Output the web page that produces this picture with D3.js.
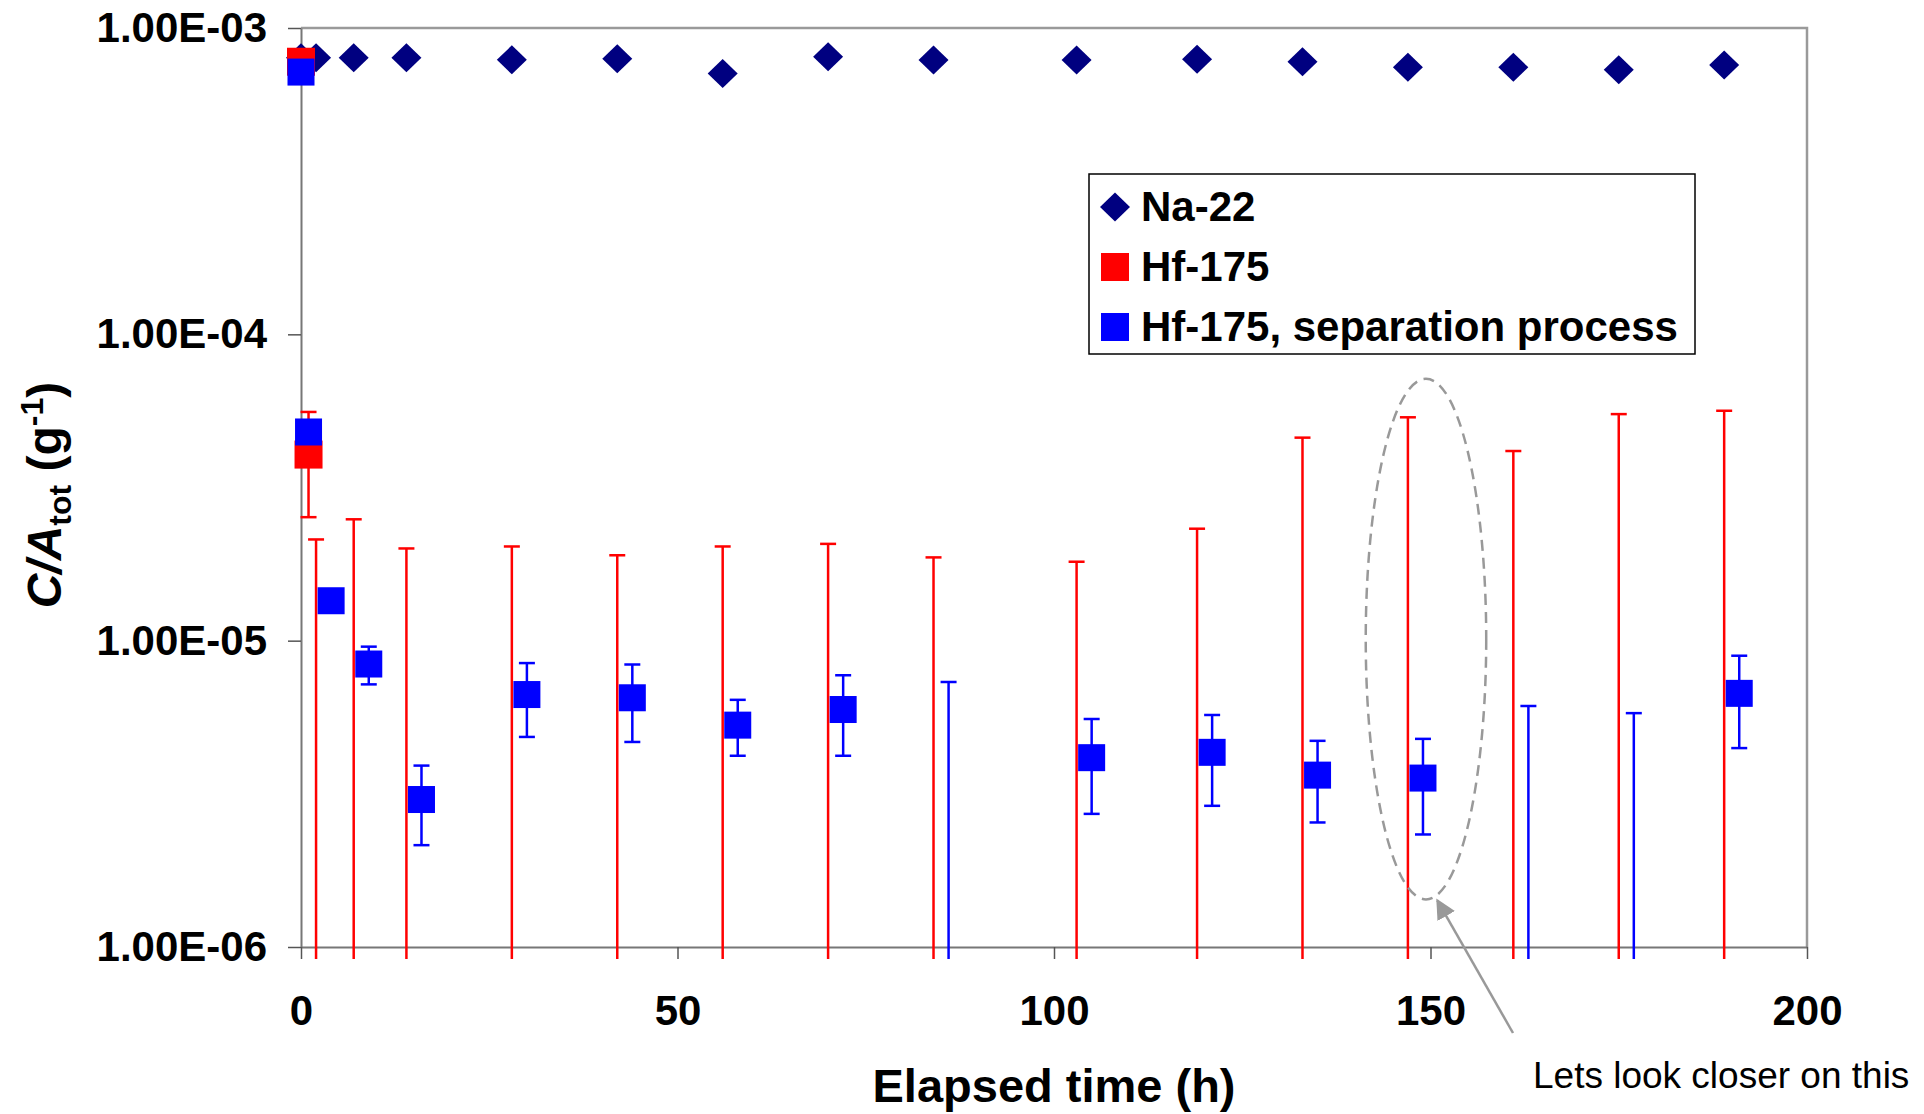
<!DOCTYPE html>
<html>
<head>
<meta charset="utf-8">
<script src="https://cdn.jsdelivr.net/npm/d3@7"></script>
<style>
  body { margin: 0; background: #fff; }
  text { font-family: "Liberation Sans", Arial, sans-serif; }
</style>
</head>
<body>
<svg id="chart" width="1924" height="1114"></svg>
<script>
// x ticks and y ticks (log axis)
var xTicks = [0, 50, 100, 150, 200];
var yTicks = [1e-6, 1e-5, 1e-4, 1e-3];
var yTickLabels = ["1.00E-06", "1.00E-05", "1.00E-04", "1.00E-03"];
var legendLabels = ["Na-22", "Hf-175", "Hf-175, separation process"];

// Na-22
var naTime  = [0, 2, 7, 14, 28, 42, 56, 70, 84, 103, 119, 133, 147, 161, 175, 189];
var naValue = [8.0e-4, 8.0e-4, 8.0e-4, 8.0e-4, 7.87e-4, 7.93e-4, 7.1e-4, 8.05e-4, 7.86e-4, 7.86e-4, 7.9e-4, 7.76e-4, 7.44e-4, 7.44e-4, 7.3e-4, 7.57e-4];

// Hf-175 (null value = below the axis, 0 lower = error bar runs off the axis)
var hfTime  = [0, 1, 2, 7, 14, 28, 42, 56, 70, 84, 103, 119, 133, 147, 161, 175, 189];
var hfValue = [7.76e-4, 4.05e-5, null, null, null, null, null, null, null, null, null, null, null, null, null, null, null];
var hfUpper = [null, 5.58e-5, 2.14e-5, 2.49e-5, 2.0e-5, 2.03e-5, 1.9e-5, 2.03e-5, 2.07e-5, 1.87e-5, 1.81e-5, 2.32e-5, 4.6e-5, 5.36e-5, 4.16e-5, 5.49e-5, 5.63e-5];
var hfLower = [null, 2.53e-5, 0, 0, 0, 0, 0, 0, 0, 0, 0, 0, 0, 0, 0, 0, 0];

// Hf-175, separation process
var sepTime  = [0, 1, 4, 9, 16, 30, 44, 58, 72, 86, 105, 121, 135, 149, 163, 177, 191];
var sepValue = [7.18e-4, 4.8e-5, 1.35e-5, 8.39e-6, 3.03e-6, 6.67e-6, 6.51e-6, 5.3e-6, 5.96e-6, null, 4.15e-6, 4.32e-6, 3.64e-6, 3.56e-6, null, null, 6.73e-6];
var sepUpper = [null, null, null, 9.56e-6, 3.91e-6, 8.45e-6, 8.36e-6, 6.41e-6, 7.71e-6, 7.33e-6, 5.55e-6, 5.72e-6, 4.71e-6, 4.78e-6, 6.12e-6, 5.8e-6, 8.93e-6];
var sepLower = [null, null, null, 7.2e-6, 2.15e-6, 4.85e-6, 4.67e-6, 4.21e-6, 4.21e-6, 0, 2.72e-6, 2.89e-6, 2.55e-6, 2.33e-6, 0, 0, 4.46e-6];

var navy = "#000080", red = "#FF0000", blue = "#0000FF";

var margin = {top: 28, right: 117, bottom: 167, left: 301},
    width = 1924 - margin.left - margin.right,
    height = 1114 - margin.top - margin.bottom;

var svg = d3.select("#chart");
var g = svg.append("g").attr("transform", "translate(" + margin.left + "," + margin.top + ")");

var x = d3.scaleLinear().domain([0, 200]).range([0, width]);
var y = d3.scaleLog().domain([1e-6, 1e-3]).range([height, 0]);

function zip(t, v, hi, lo) {
  return t.map(function(d, i) {
    return {t: d, v: v[i], hi: hi ? hi[i] : null, lo: lo ? lo[i] : null};
  });
}
var naData = zip(naTime, naValue);
var hfData = zip(hfTime, hfValue, hfUpper, hfLower);
var sepData = zip(sepTime, sepValue, sepUpper, sepLower);

// plot border (top/right)
g.append("path")
    .attr("d", "M0,0H" + width + "V" + height)
    .attr("fill", "none")
    .attr("stroke", "#9a9a9a")
    .attr("stroke-width", 2.5);

// axes
var yAxis = g.append("g")
    .call(d3.axisLeft(y).tickValues(yTicks).tickSize(13).tickSizeOuter(0).tickPadding(21)
      .tickFormat(function(d, i) { return yTickLabels[i]; }));
var xAxis = g.append("g")
    .attr("transform", "translate(0," + height + ")")
    .call(d3.axisBottom(x).tickValues(xTicks).tickSize(12).tickSizeOuter(0).tickPadding(36));

[yAxis, xAxis].forEach(function(a) {
  a.select(".domain").attr("stroke", "#777").attr("stroke-width", 2);
  a.selectAll(".tick line").attr("stroke", "#555").attr("stroke-width", 1.5);
  a.selectAll(".tick text")
      .attr("fill", "#000")
      .style("font-size", "42px")
      .style("font-weight", "bold");
});

// error bars
function errorBars(data, color) {
  var eg = g.append("g").attr("stroke", color).attr("stroke-width", 2.5).attr("fill", "none");
  data.filter(function(d) { return d.hi != null; }).forEach(function(d) {
    var cx = x(d.t);
    var top = y(d.hi);
    var bottom = d.lo > 0 ? y(d.lo) : height + 12;
    eg.append("line").attr("x1", cx).attr("x2", cx).attr("y1", top).attr("y2", bottom);
    eg.append("line").attr("x1", cx - 8).attr("x2", cx + 8).attr("y1", top).attr("y2", top);
    if (d.lo > 0) {
      eg.append("line").attr("x1", cx - 8).attr("x2", cx + 8).attr("y1", bottom).attr("y2", bottom);
    }
  });
}

function squares(data, color, size) {
  g.append("g").selectAll("rect")
      .data(data.filter(function(d) { return d.v != null; }))
      .enter().append("rect")
      .attr("x", function(d) { return x(d.t) - size / 2; })
      .attr("y", function(d) { return y(d.v) - size / 2; })
      .attr("width", size)
      .attr("height", size)
      .attr("fill", color);
}

var diamond = "M0,-14.5L15,0L0,14.5L-15,0Z";

// Na-22
g.append("g").selectAll("path")
    .data(naData)
    .enter().append("path")
    .attr("d", diamond)
    .attr("transform", function(d) { return "translate(" + x(d.t) + "," + y(d.v) + ")"; })
    .attr("fill", navy);

errorBars(hfData, red);
squares(hfData, red, 28);
errorBars(sepData, blue);
squares(sepData, blue, 27);

// axis titles
g.append("text")
    .attr("x", width / 2)
    .attr("y", 1102 - margin.top)
    .attr("text-anchor", "middle")
    .style("font-size", "47px")
    .style("font-weight", "bold")
    .text("Elapsed time (h)");

var yt = svg.append("text")
    .attr("transform", "translate(61,495) rotate(-90)")
    .attr("text-anchor", "middle")
    .style("font-size", "48px")
    .style("font-weight", "bold");
yt.append("tspan").style("font-style", "italic").text("C/A");
yt.append("tspan").attr("dy", 10).style("font-size", "32px").text("tot");
yt.append("tspan").attr("dy", -10).text(" (g");
yt.append("tspan").attr("dy", -18).style("font-size", "32px").text("-1");
yt.append("tspan").attr("dy", 18).text(")");

// legend
var legend = svg.append("g");
legend.append("rect")
    .attr("x", 1089).attr("y", 174).attr("width", 606).attr("height", 180)
    .attr("fill", "#fff").attr("stroke", "#000").attr("stroke-width", 1.5);
var legendColors = [navy, red, blue];
legendLabels.forEach(function(label, i) {
  var cy = 207 + i * 60;
  if (i === 0) {
    legend.append("path").attr("d", diamond).attr("transform", "translate(1115," + cy + ")").attr("fill", navy);
  } else {
    legend.append("rect").attr("x", 1101).attr("y", cy - 14).attr("width", 28).attr("height", 28).attr("fill", legendColors[i]);
  }
  legend.append("text")
      .attr("x", 1141).attr("y", cy + 14)
      .style("font-size", "42px").style("font-weight", "bold")
      .text(label);
});

// annotation
var ellTop = y(7.16e-5), ellBottom = y(1.43e-6);
g.append("ellipse")
    .attr("cx", x(149.4))
    .attr("cy", (ellTop + ellBottom) / 2)
    .attr("rx", x(157.4) - x(149.4))
    .attr("ry", (ellBottom - ellTop) / 2)
    .attr("fill", "none")
    .attr("stroke", "#999")
    .attr("stroke-width", 2.5)
    .attr("stroke-dasharray", "11,7");

svg.append("defs").append("marker")
    .attr("id", "arrow")
    .attr("viewBox", "0 0 10 10")
    .attr("refX", 9).attr("refY", 5)
    .attr("markerWidth", 8).attr("markerHeight", 8)
    .attr("markerUnits", "strokeWidth")
    .attr("orient", "auto")
  .append("path")
    .attr("d", "M0,0L10,5L0,10Z")
    .attr("fill", "#999");

svg.append("line")
    .attr("x1", 1513).attr("y1", 1033)
    .attr("x2", margin.left + x(150.9)).attr("y2", margin.top + y(1.42e-6))
    .attr("stroke", "#999")
    .attr("stroke-width", 2.5)
    .attr("marker-end", "url(#arrow)");

svg.append("text")
    .attr("x", 1533).attr("y", 1088)
    .style("font-size", "37px")
    .text("Lets look closer on this");
</script>
</body>
</html>
